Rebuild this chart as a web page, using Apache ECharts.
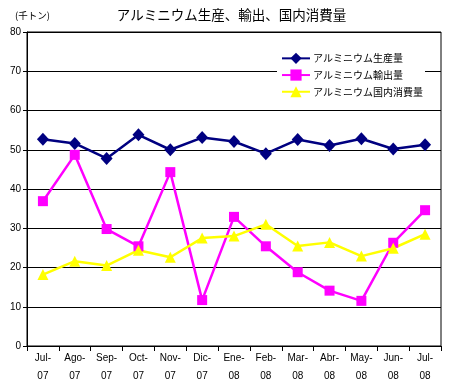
<!DOCTYPE html>
<html><head><meta charset="utf-8">
<script src="https://cdn.jsdelivr.net/npm/echarts@6/dist/echarts.min.js"></script>
<style>html,body{margin:0;padding:0;background:#fff}#c{width:463px;height:390px}</style>
</head><body><div id="c"></div>
<script>
const categories = ["Jul-07","Ago-07","Sep-07","Oct-07","Nov-07","Dic-07","Ene-08","Feb-08","Mar-08","Abr-08","May-08","Jun-08","Jul-08"];
const production = [52.7,51.6,47.8,53.8,50.0,53.1,52.1,49.0,52.6,51.1,52.8,50.2,51.3];
const exportsData = [36.9,48.7,29.8,25.4,44.3,11.7,32.9,25.4,18.8,14.1,11.5,26.3,34.6];
const consumption = [18.2,21.6,20.5,24.4,22.6,27.5,28.0,31.0,25.5,26.4,22.9,24.9,28.5];
const seriesNames = ["アルミニウム生産量","アルミニウム輸出量","アルミニウム国内消費量"];
const titleText = "アルミニウム生産、輸出、国内消費量";
const unitText = "(千トン)";

const chart = echarts.init(document.getElementById('c'));
const jp = '"Noto Sans CJK JP", sans-serif';
const lat = '"Liberation Sans", Arial, sans-serif';
chart.setOption({
  animation: false,
  backgroundColor: '#fff',
  title: [
    {text: titleText, left: 'center', top: 3, textStyle: {fontFamily: jp, fontSize: 13.5, fontWeight: 'normal', color: '#000'}},
    {text: unitText, left: 10, top: 6, textStyle: {fontFamily: jp, fontSize: 9.5, fontWeight: 'normal', color: '#000'}}
  ],
  legend: {
    orient: 'vertical', left: 277, top: 48, itemGap: 0, itemWidth: 28, itemHeight: 14,
    backgroundColor: '#fff', padding: [2, 2, 2, 4],
    textStyle: {fontFamily: jp, fontSize: 10, color: '#000', lineHeight: 16.7, padding: [0,0,0,-2]},
    data: seriesNames
  },
  grid: {left: 27, right: 22, top: 32, bottom: 44, show: true, borderColor: '#000', borderWidth: 1, backgroundColor: '#fff'},
  xAxis: {
    type: 'category', data: categories, boundaryGap: true,
    axisLine: {lineStyle: {color: '#000', width: 1}},
    axisTick: {show: true, interval: 0, length: 5, lineStyle: {color: '#000'}},
    axisLabel: {interval: 0, margin: 3, fontFamily: lat, fontSize: 10, color: '#000', lineHeight: 18,
      formatter: v => v.replace('-', '-\n')}
  },
  yAxis: {
    type: 'value', min: 0, max: 80, interval: 10,
    axisLine: {show: true, lineStyle: {color: '#000', width: 1}},
    axisTick: {show: true, length: 4, lineStyle: {color: '#000'}},
    splitLine: {show: true, lineStyle: {color: '#000', width: 1}},
    axisLabel: {margin: 6, fontFamily: lat, fontSize: 10, color: '#000'}
  },
  series: [
    {name: seriesNames[0], type: 'line', data: production, symbol: 'diamond', symbolSize: [12, 13],
     itemStyle: {color: '#000080'}, lineStyle: {color: '#000080', width: 2.5}},
    {name: seriesNames[1], type: 'line', data: exportsData, symbol: 'rect', symbolSize: 10,
     itemStyle: {color: '#FF00FF'}, lineStyle: {color: '#FF00FF', width: 2.5}},
    {name: seriesNames[2], type: 'line', data: consumption, symbol: 'triangle', symbolSize: 11,
     itemStyle: {color: '#FFFF00'}, lineStyle: {color: '#FFFF00', width: 2.5}}
  ]
});
</script></body></html>
